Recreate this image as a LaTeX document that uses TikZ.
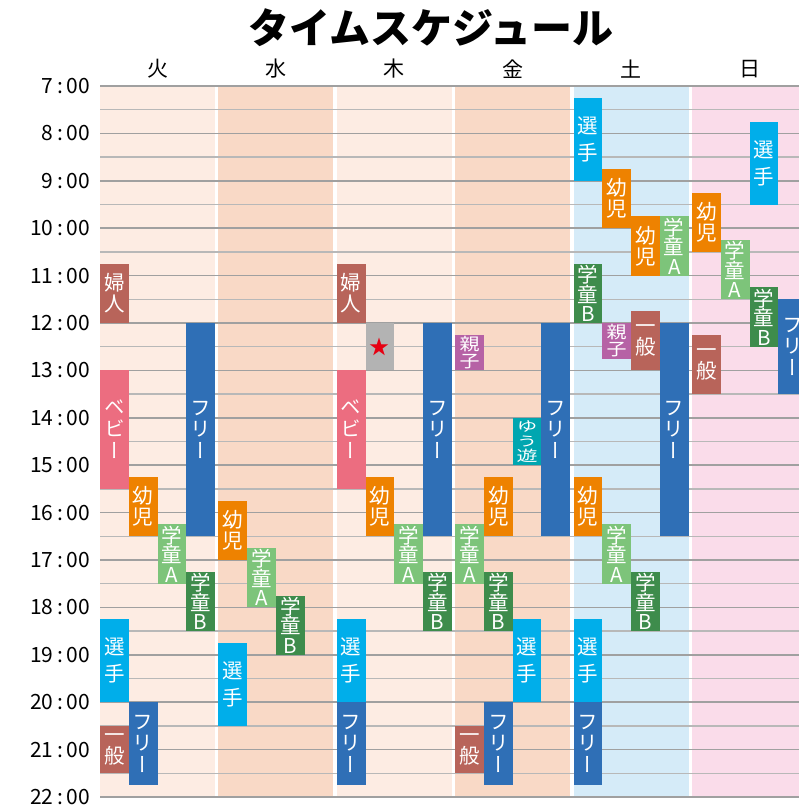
\documentclass[tikz,border=0pt]{standalone}
\usepackage{fontspec}
\usepackage{graphicx}
\newfontfamily\jp{Noto Sans CJK JP}
\newfontfamily\jpv[RawFeature=+vert]{Noto Sans CJK JP}
\definecolor{bgA}{HTML}{FDECE3}
\definecolor{bgB}{HTML}{F9D9C6}
\definecolor{bgC}{HTML}{D5EBF8}
\definecolor{bgD}{HTML}{FADCEA}
\definecolor{cFujin}{HTML}{B8645A}
\definecolor{cBaby}{HTML}{EC6D80}
\definecolor{cFree}{HTML}{2F6FB6}
\definecolor{cYoji}{HTML}{EE8200}
\definecolor{cGakuA}{HTML}{7DC47A}
\definecolor{cGakuB}{HTML}{3E8C4C}
\definecolor{cSenshu}{HTML}{00AEEA}
\definecolor{cOyako}{HTML}{B662A5}
\definecolor{cYuyu}{HTML}{00A6B0}
\definecolor{cStar}{HTML}{B3B3B3}
\definecolor{cRed}{HTML}{E60012}
\definecolor{cHour}{HTML}{A0A0A0}
\definecolor{cHalf}{HTML}{B8B8B8}
\newcommand\sqz[2]{\scalebox{1}[#1]{#2}}
\newcommand\blk[7]{%
  \pgfmathsetmacro\blkx{100+#2*118.4+(#3+0.5)*28.75}%
  \pgfmathsetmacro\blkya{86+(#4-7)*47.4}%
  \pgfmathsetmacro\blkyb{86+(#5-7)*47.4}%
  \pgfmathsetmacro\blkh{\blkyb-\blkya}%
  \pgfmathsetmacro\blkc{(\blkya+\blkyb)/2}%
  \node[blk,#6,minimum height=\blkh pt] (#1) at (\blkx,\blkc) {#7};}
\begin{document}
\begin{tikzpicture}[x=1pt,y=-1pt,
  blk/.style={rectangle,inner sep=0pt,minimum width=28.75pt,text=white,align=center,
    font=\jpv\fontsize{20.5}{21}\selectfont},
  fujin/.style={fill=cFujin},
  ippan/.style={fill=cFujin},
  baby/.style={fill=cBaby,font=\jpv\fontsize{20.5}{22}\selectfont},
  free/.style={fill=cFree,font=\jpv\fontsize{20.5}{21.5}\selectfont},
  yoji/.style={fill=cYoji},
  gakuA/.style={fill=cGakuA,font=\jpv\fontsize{20.5}{19.5}\selectfont},
  gakuB/.style={fill=cGakuB,font=\jpv\fontsize{20.5}{19.5}\selectfont},
  senshu/.style={fill=cSenshu,font=\jpv\fontsize{20.5}{27}\selectfont},
  oyako/.style={fill=cOyako,font=\jpv\fontsize{20}{17.5}\selectfont},
  yuyu/.style={fill=cYuyu,font=\jpv\fontsize{21}{15}\selectfont},
  starbox/.style={fill=cStar,text=cRed,font=\jp\fontsize{20}{20}\selectfont},
  hourline/.style={draw=cHour,line width=1.6pt},
  halfline/.style={draw=cHalf,line width=1.3pt},
  timelbl/.style={anchor=east,inner sep=0pt,font=\jp\fontsize{21}{21}\selectfont},
  daylbl/.style={inner sep=0pt,font=\jp\fontsize{21}{21}\selectfont},
  titlelbl/.style={inner sep=0pt,font=\jp\bfseries\fontsize{41}{41}\selectfont}]
\useasboundingbox (0,0) rectangle (799,805);
\clip (0,0) rectangle (799,805);
\fill[white] (0,0) rectangle (799,805);
% day backgrounds
\foreach \d/\c in {0/bgA,1/bgB,2/bgA,3/bgB,4/bgC,5/bgD}
  \fill[\c] ({100+\d*118.4},86) rectangle ({215+\d*118.4},797);
% grid lines
\foreach \h in {7,...,21}
  \draw[halfline] (100,{86+(\h-6.5)*47.4}) -- (799,{86+(\h-6.5)*47.4});
\foreach \h in {7,...,22}
  \draw[hourline] (100,{86+(\h-7)*47.4}) -- (799,{86+(\h-7)*47.4});
% time labels
\foreach \h in {7,...,22}
  \node[timelbl] (t\h) at (90,{86+(\h-7)*47.4}) {\h{\kern3.5pt}:{\kern3.5pt}00};
% title and day labels
\node[titlelbl] (title) at (431,28) {タイムスケジュール};
\node[daylbl] (d0) at (157.5,69) {火};
\node[daylbl] (d1) at (275.9,69) {水};
\node[daylbl] (d2) at (394.3,69) {木};
\node[daylbl] (d3) at (512.7,69) {金};
\node[daylbl] (d4) at (631.1,69) {土};
\node[daylbl] (d5) at (749.5,69) {日};
% Tue
\blk{b01}{0}{0}{10.75}{12}{fujin}{婦\\人}
\blk{b02}{0}{0}{13}{15.5}{baby}{ベ\\ビ\\ー}
\blk{b03}{0}{3}{12}{16.5}{free}{フ\\リ\\ー}
\blk{b04}{0}{1}{15.25}{16.5}{yoji}{幼\\児}
\blk{b05}{0}{2}{16.25}{17.5}{gakuA}{学\\童\\A}
\blk{b06}{0}{3}{17.25}{18.5}{gakuB}{学\\童\\B}
\blk{b07}{0}{0}{18.25}{20}{senshu}{選\\手}
\blk{b08}{0}{1}{20}{21.75}{free}{フ\\リ\\ー}
\blk{b09}{0}{0}{20.5}{21.5}{ippan}{一\\般}
% Wed
\blk{b10}{1}{0}{15.75}{17}{yoji}{幼\\児}
\blk{b11}{1}{1}{16.75}{18}{gakuA}{学\\童\\A}
\blk{b12}{1}{2}{17.75}{19}{gakuB}{学\\童\\B}
\blk{b13}{1}{0}{18.75}{20.5}{senshu}{選\\手}
% Thu
\blk{b14}{2}{0}{10.75}{12}{fujin}{婦\\人}
\blk{b15}{2}{1}{12}{13}{starbox}{★}
\blk{b16}{2}{0}{13}{15.5}{baby}{ベ\\ビ\\ー}
\blk{b17}{2}{3}{12}{16.5}{free}{フ\\リ\\ー}
\blk{b18}{2}{1}{15.25}{16.5}{yoji}{幼\\児}
\blk{b19}{2}{2}{16.25}{17.5}{gakuA}{学\\童\\A}
\blk{b20}{2}{3}{17.25}{18.5}{gakuB}{学\\童\\B}
\blk{b21}{2}{0}{18.25}{20}{senshu}{選\\手}
\blk{b22}{2}{0}{20}{21.75}{free}{フ\\リ\\ー}
% Fri
\blk{b23}{3}{0}{12.25}{13}{oyako}{\sqz{0.85}{親}\\\sqz{0.85}{子}}
\blk{b24}{3}{2}{14}{15}{yuyu}{\sqz{0.65}{ゆ}\\\sqz{0.65}{う}\\\sqz{0.7}{遊}}
\blk{b25}{3}{3}{12}{16.5}{free}{フ\\リ\\ー}
\blk{b26}{3}{1}{15.25}{16.5}{yoji}{幼\\児}
\blk{b27}{3}{0}{16.25}{17.5}{gakuA}{学\\童\\A}
\blk{b28}{3}{1}{17.25}{18.5}{gakuB}{学\\童\\B}
\blk{b29}{3}{2}{18.25}{20}{senshu}{選\\手}
\blk{b30}{3}{0}{20.5}{21.5}{ippan}{一\\般}
\blk{b31}{3}{1}{20}{21.75}{free}{フ\\リ\\ー}
% Sat
\blk{b32}{4}{0}{7.25}{9}{senshu}{選\\手}
\blk{b33}{4}{1}{8.75}{10}{yoji}{幼\\児}
\blk{b34}{4}{2}{9.75}{11}{yoji}{幼\\児}
\blk{b35}{4}{3}{9.75}{11}{gakuA}{学\\童\\A}
\blk{b36}{4}{0}{10.75}{12}{gakuB}{学\\童\\B}
\blk{b37}{4}{1}{12}{12.75}{oyako}{\sqz{0.85}{親}\\\sqz{0.85}{子}}
\blk{b38}{4}{2}{11.75}{13}{ippan}{一\\般}
\blk{b39}{4}{3}{12}{16.5}{free}{フ\\リ\\ー}
\blk{b40}{4}{0}{15.25}{16.5}{yoji}{幼\\児}
\blk{b41}{4}{1}{16.25}{17.5}{gakuA}{学\\童\\A}
\blk{b42}{4}{2}{17.25}{18.5}{gakuB}{学\\童\\B}
\blk{b43}{4}{0}{18.25}{20}{senshu}{選\\手}
\blk{b44}{4}{0}{20}{21.75}{free}{フ\\リ\\ー}
% Sun
\blk{b45}{5}{2}{7.75}{9.5}{senshu}{選\\手}
\blk{b46}{5}{0}{9.25}{10.5}{yoji}{幼\\児}
\blk{b47}{5}{1}{10.25}{11.5}{gakuA}{学\\童\\A}
\blk{b48}{5}{2}{11.25}{12.5}{gakuB}{学\\童\\B}
\blk{b49}{5}{3}{11.5}{13.5}{free}{フ\\リ\\ー}
\blk{b50}{5}{0}{12.25}{13.5}{ippan}{一\\般}
\end{tikzpicture}
\end{document}
